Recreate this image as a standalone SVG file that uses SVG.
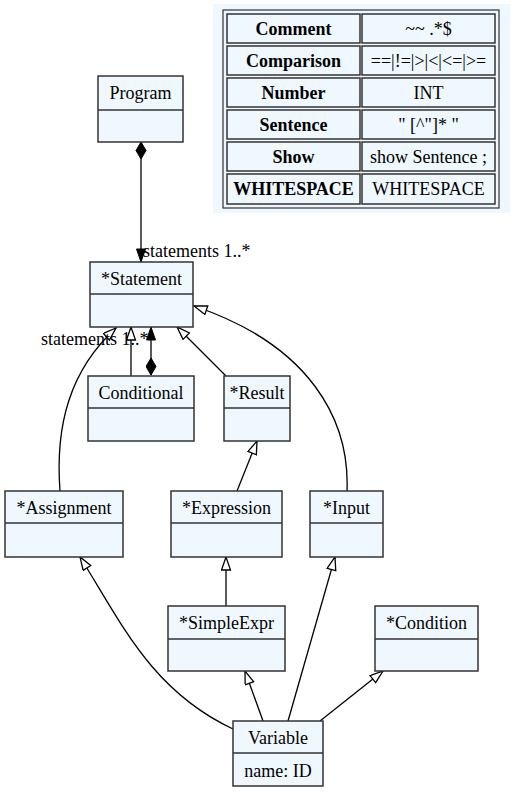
<svg xmlns="http://www.w3.org/2000/svg" width="515" height="792" viewBox="0 0 515 792">
<style>
.box{fill:#f0f8ff;stroke:#333;stroke-width:1.5}
.div{stroke:#333;stroke-width:1.5}
.t{font-family:"Liberation Serif","Times New Roman",serif;font-size:18px;fill:#000;text-anchor:middle}
.lbl{font-family:"Liberation Serif","Times New Roman",serif;font-size:18px;fill:#000}
.b{font-weight:bold}
.e{fill:none;stroke:#000;stroke-width:1.3}
.inh{marker-end:url(#tri)}
.cell{fill:#f0f8ff;stroke:#333;stroke-width:1.5}
</style>
<defs>
<marker id="tri" markerUnits="userSpaceOnUse" markerWidth="16" markerHeight="12" refX="14" refY="5" orient="auto">
<path d="M1,0.5 L14,5 L1,9.5 z" fill="#fff" stroke="#000" stroke-width="1.3"/>
</marker>
<marker id="arr" markerUnits="userSpaceOnUse" markerWidth="16" markerHeight="12" refX="14" refY="5" orient="auto">
<path d="M1,0.5 L14,5 L1,9.5 z" fill="#000" stroke="#000" stroke-width="1"/>
</marker>
<marker id="dia" markerUnits="userSpaceOnUse" markerWidth="20" markerHeight="12" refX="0.5" refY="5.5" orient="auto">
<path d="M0.5,5.5 L9,0.5 L17.5,5.5 L9,10.5 z" fill="#000" stroke="#000" stroke-width="1"/>
</marker>
</defs>
<rect width="515" height="792" fill="#fff"/>

<g id="table">
<rect x="213" y="4" width="297" height="209" fill="#f0f8ff"/>
<rect x="223" y="10" width="276" height="198" fill="#f0f8ff" stroke="#333" stroke-width="1.2"/>
<rect class="cell" x="227" y="14" width="133" height="29"/><rect class="cell" x="362" y="14" width="133" height="29"/>
<rect class="cell" x="227" y="46" width="133" height="29"/><rect class="cell" x="362" y="46" width="133" height="29"/>
<rect class="cell" x="227" y="78" width="133" height="29"/><rect class="cell" x="362" y="78" width="133" height="29"/>
<rect class="cell" x="227" y="110" width="133" height="29"/><rect class="cell" x="362" y="110" width="133" height="29"/>
<rect class="cell" x="227" y="142" width="133" height="29"/><rect class="cell" x="362" y="142" width="133" height="29"/>
<rect class="cell" x="227" y="174" width="133" height="30"/><rect class="cell" x="362" y="174" width="133" height="30"/>
<text class="t b" x="293.5" y="35">Comment</text><text class="t" x="428.5" y="35">~~ .*$</text>
<text class="t b" x="293.5" y="67">Comparison</text><text class="t" x="428.5" y="67">==|!=|&gt;|&lt;|&lt;=|&gt;=</text>
<text class="t b" x="293.5" y="99">Number</text><text class="t" x="428.5" y="99">INT</text>
<text class="t b" x="293.5" y="131">Sentence</text><text class="t" x="428.5" y="131">" [^"]* "</text>
<text class="t b" x="293.5" y="163">Show</text><text class="t" x="428.5" y="163">show Sentence ;</text>
<text class="t b" x="293.5" y="195">WHITESPACE</text><text class="t" x="428.5" y="195">WHITESPACE</text>
</g>

<g id="edges">
<path class="e" d="M141,142 L141,262" marker-start="url(#dia)" marker-end="url(#arr)"/>
<path class="e" d="M151,375 L151,327" marker-start="url(#dia)" marker-end="url(#arr)"/>
<path class="e inh" d="M131,376 L131,327"/>
<path class="e inh" d="M226,376 L177,327"/>
<path class="e inh" d="M60,491 C55,425 70,370 116,328"/>
<path class="e inh" d="M347,491 C350,420 310,345 194,306"/>
<path class="e inh" d="M237,491 L257,441"/>
<path class="e inh" d="M226,606 L226,557"/>
<path class="e inh" d="M233,729 C150,690 120,620 80,557"/>
<path class="e inh" d="M263,721 L245,671"/>
<path class="e inh" d="M288,721 L335,557"/>
<path class="e inh" d="M320,721 L383,671"/>
<text class="lbl" x="143" y="257">statements 1..*</text>
<text class="lbl" x="41" y="345">statements 1..*</text>
</g>

<g id="Program">
<rect class="box" x="98" y="76" width="85" height="66"/>
<line class="div" x1="98" y1="110" x2="183" y2="110"/>
<text class="t" x="140.5" y="99">Program</text>
</g>
<g id="Statement">
<rect class="box" x="90" y="262" width="103" height="65"/>
<line class="div" x1="90" y1="294" x2="193" y2="294"/>
<text class="t" x="141.5" y="285">*Statement</text>
</g>
<g id="Conditional">
<rect class="box" x="88" y="376" width="106" height="65"/>
<line class="div" x1="88" y1="408" x2="194" y2="408"/>
<text class="t" x="141" y="399">Conditional</text>
</g>
<g id="Result">
<rect class="box" x="224" y="376" width="66" height="65"/>
<line class="div" x1="224" y1="408" x2="290" y2="408"/>
<text class="t" x="257" y="399">*Result</text>
</g>
<g id="Assignment">
<rect class="box" x="5" y="491" width="118" height="66"/>
<line class="div" x1="5" y1="523" x2="123" y2="523"/>
<text class="t" x="64" y="514">*Assignment</text>
</g>
<g id="Expression">
<rect class="box" x="171" y="491" width="111" height="66"/>
<line class="div" x1="171" y1="523" x2="282" y2="523"/>
<text class="t" x="226.5" y="514">*Expression</text>
</g>
<g id="Input">
<rect class="box" x="310" y="491" width="73" height="66"/>
<line class="div" x1="310" y1="523" x2="383" y2="523"/>
<text class="t" x="346.5" y="514">*Input</text>
</g>
<g id="SimpleExpr">
<rect class="box" x="168" y="606" width="117" height="65"/>
<line class="div" x1="168" y1="639" x2="285" y2="639"/>
<text class="t" x="226.5" y="629">*SimpleExpr</text>
</g>
<g id="Condition">
<rect class="box" x="375" y="606" width="103" height="65"/>
<line class="div" x1="375" y1="639" x2="478" y2="639"/>
<text class="t" x="426.5" y="629">*Condition</text>
</g>
<g id="Variable">
<rect class="box" x="233" y="721" width="90" height="65"/>
<line class="div" x1="233" y1="753" x2="323" y2="753"/>
<text class="t" x="278" y="744">Variable</text>
<text class="t" x="278" y="777">name: ID</text>
</g>
</svg>
